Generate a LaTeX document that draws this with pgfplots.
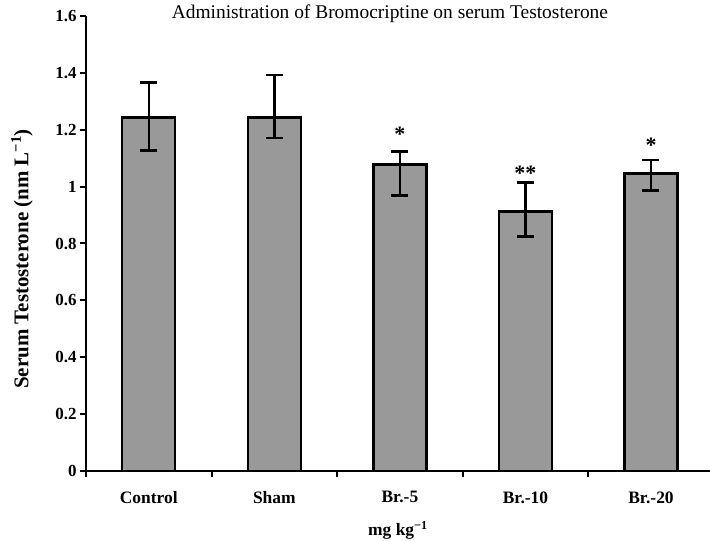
\documentclass[border=0pt]{standalone}
\usepackage{fontspec}
\setmainfont{Liberation Serif}
\usepackage{pgfplots}
\pgfplotsset{compat=1.18}
\definecolor{barfill}{RGB}{153,153,153}

\begin{document}
\begin{tikzpicture}
\useasboundingbox (-86bp,-70bp) rectangle (624bp,471bp);
\begin{axis}[
  at={(0,0)}, anchor=south west,
  scale only axis, width=624bp, height=455bp,
  xmin=-0.5, xmax=4.47, ymin=0, ymax=1.6,
  axis x line*=bottom, axis y line*=left,
  axis line style={line width=2.4bp, -},
  ytick={0,0.2,0.4,0.6,0.8,1,1.2,1.4,1.6},
  xtick={-0.5,0.5,1.5,2.5,3.5}, xticklabels={},
  extra x ticks={0,1,2,3,4},
  extra x tick labels={Control,Sham,Br.-5,Br.-10,Br.-20},
  extra x tick style={major tick length=0pt},
  tick align=outside, major tick length=6bp,
  tick style={line width=2bp, black},
  /pgf/number format/assume math mode=true,
  yticklabel style={font=\fontsize{17}{20}\selectfont\bfseries},
  xticklabel style={font=\fontsize{17.5}{20}\selectfont\bfseries, yshift=-17bp},
  ylabel={Serum Testosterone (nm L\textsuperscript{−1})},
  ylabel style={font=\fontsize{21}{24}\selectfont\bfseries, at={(axis description cs:-0.1026,0.466)}, anchor=center},
  xlabel={mg kg\textsuperscript{−1}},
  xlabel style={font=\fontsize{17.5}{20}\selectfont\bfseries, at={(axis description cs:0.5,-0.13)}, anchor=center},
  clip=false,
]
\addplot[ybar, bar width=53bp, fill=barfill, draw=black, line width=2.4bp,
  error bars/.cd, y dir=both, y explicit,
  error bar style={line width=2.4bp, black},
  error mark options={rotate=90, mark size=8.5bp, line width=2.4bp, black}]
  coordinates {
    (0,1.243) += (0,0.123) -= (0,0.116)
    (1,1.243) += (0,0.149) -= (0,0.073)
    (2,1.078) += (0,0.046) -= (0,0.109)
    (3,0.913) += (0,0.101) -= (0,0.089)
    (4,1.046) += (0,0.048) -= (0,0.059)
  };
\node[font=\fontsize{19.5}{22}\selectfont] at (axis description cs:0.487,1.004) {Administration of Bromocriptine on serum Testosterone};
\node[font=\fontsize{22}{24}\selectfont\bfseries] at (axis cs:2,1.185) {*};
\node[font=\fontsize{22}{24}\selectfont\bfseries] at (axis cs:3,1.048) {**};
\node[font=\fontsize{22}{24}\selectfont\bfseries] at (axis cs:4,1.147) {*};
\end{axis}
\end{tikzpicture}
\end{document}
